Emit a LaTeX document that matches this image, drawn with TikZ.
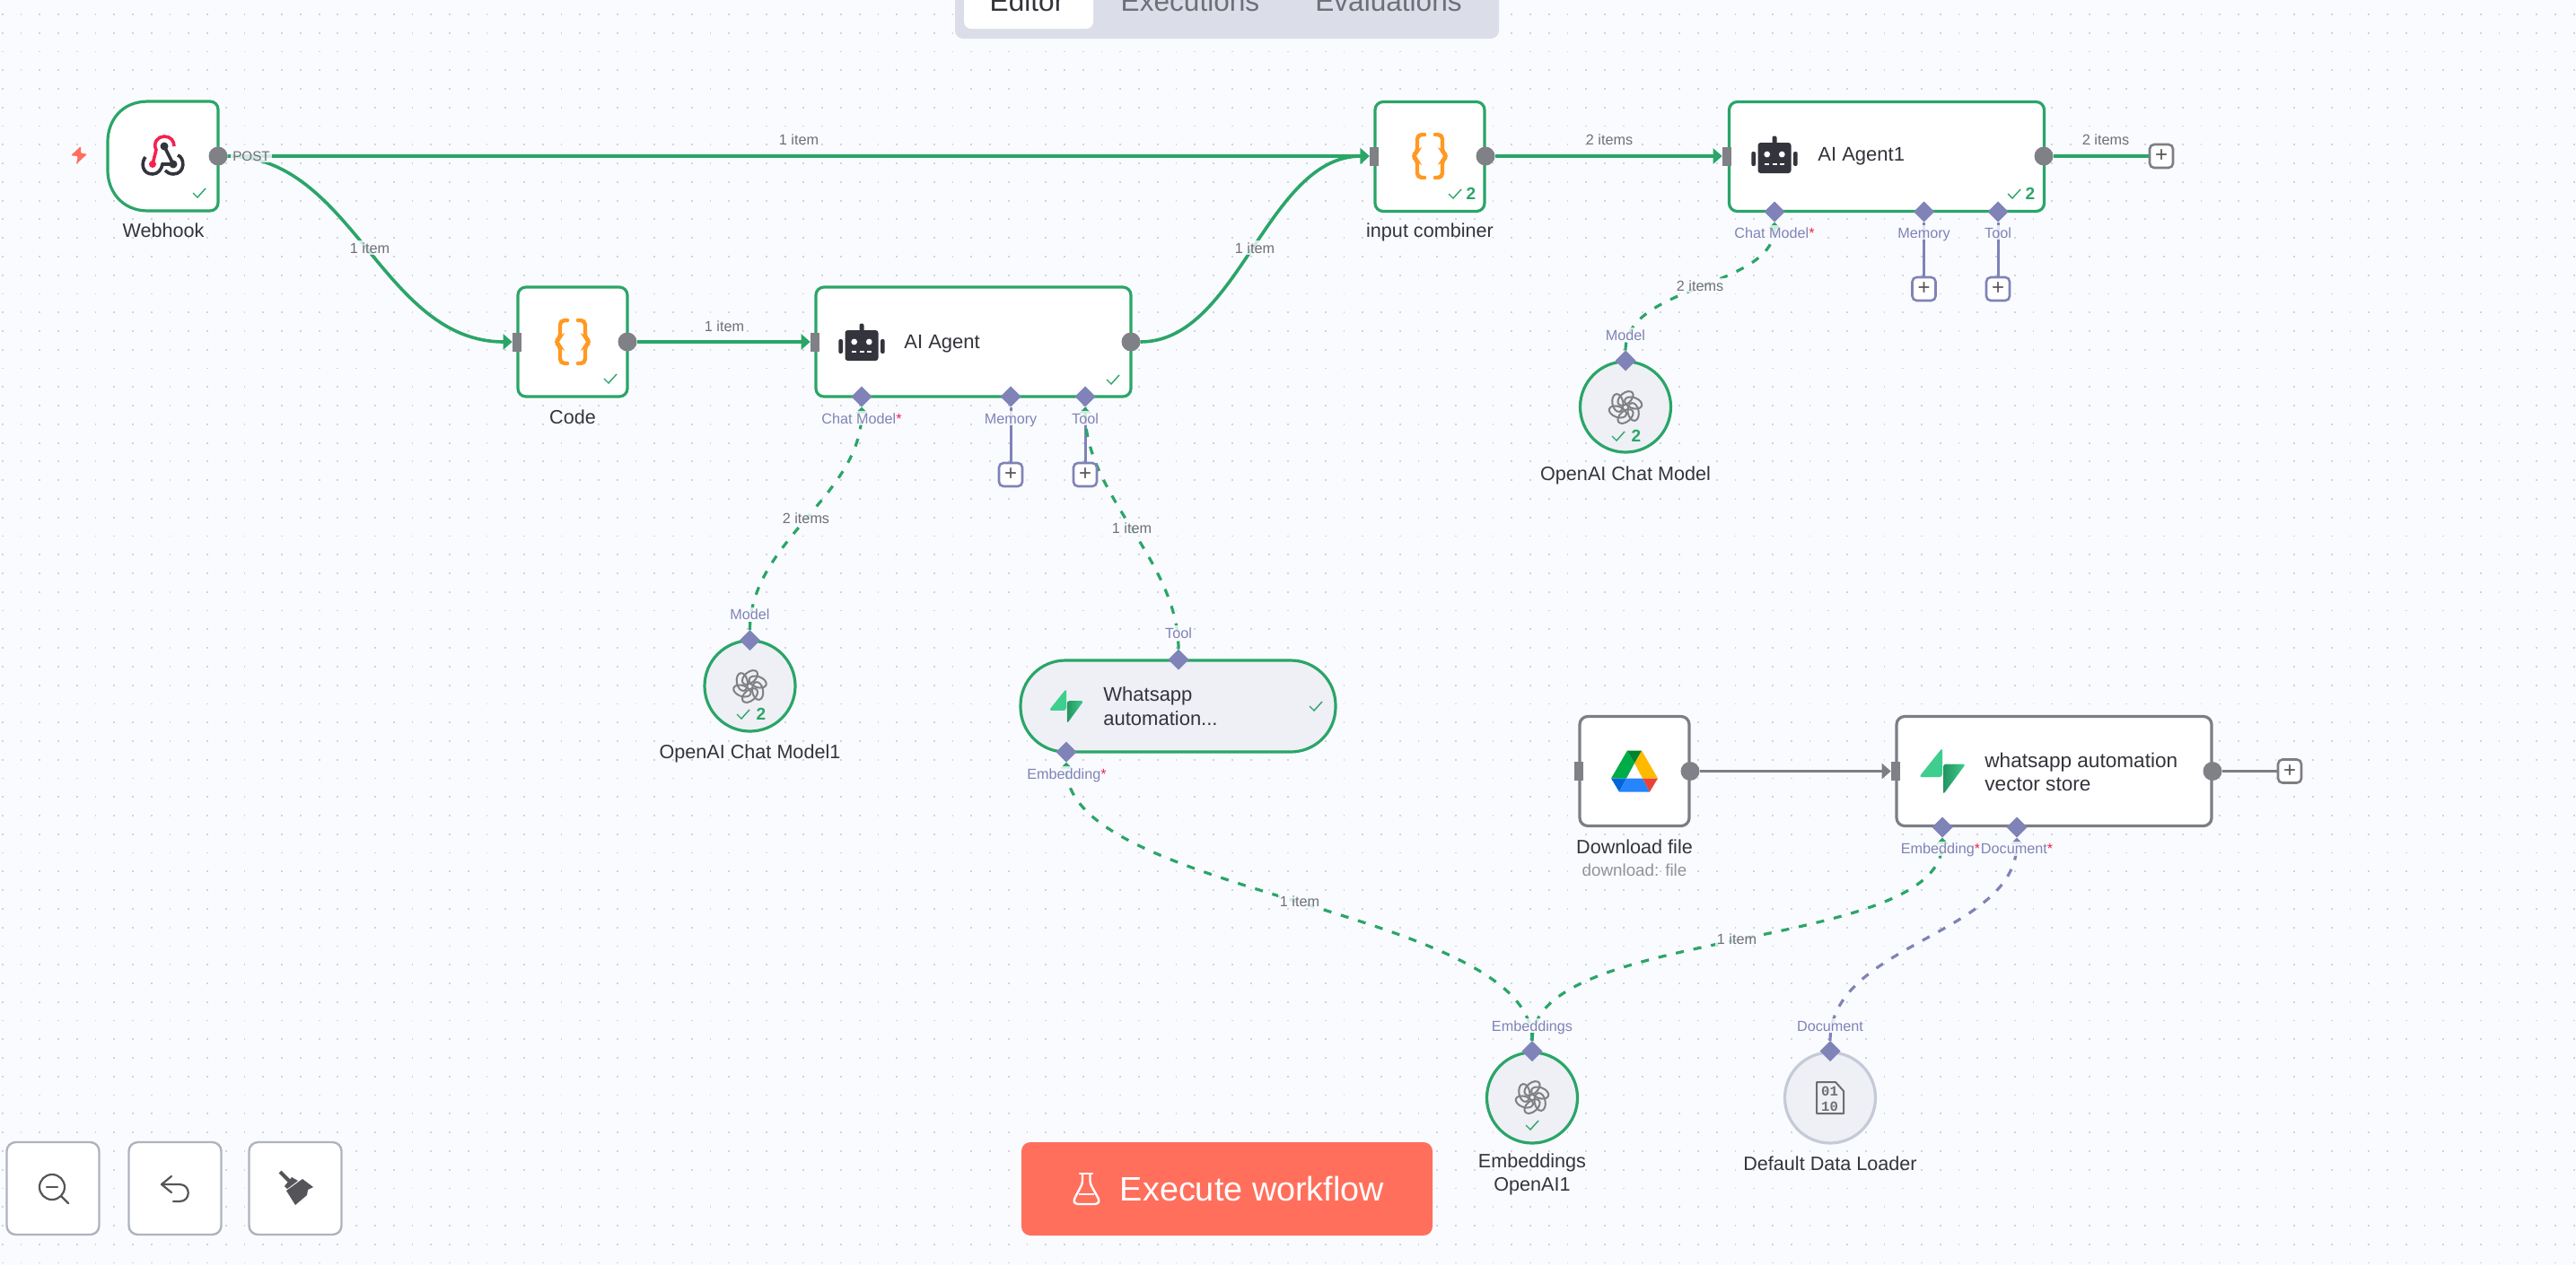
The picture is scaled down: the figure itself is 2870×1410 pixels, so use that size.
\documentclass[tikz,border=0pt]{standalone}
\usepackage{fontspec}
\setmainfont{Liberation Sans}
\setmonofont{Liberation Mono}
\usetikzlibrary{arrows.meta,shapes.geometric,backgrounds}
\definecolor{pagebg}{HTML}{FAFBFE}
\definecolor{griddot}{HTML}{D0D3DB}
\definecolor{okgreen}{HTML}{2AA568}
\definecolor{aipurple}{HTML}{7F83B7}
\definecolor{portgray}{HTML}{7F8186}
\definecolor{idlegray}{HTML}{7D7E85}
\definecolor{softfill}{HTML}{EEF0F5}
\definecolor{softline}{HTML}{C5CAD8}
\definecolor{inkdark}{HTML}{33343C}
\definecolor{inkgray}{HTML}{6E6F78}
\definecolor{iconink}{HTML}{555559}
\definecolor{reqred}{HTML}{F5224F}
\definecolor{runred}{HTML}{FF6F5C}
\definecolor{supagreen}{HTML}{3ECF8E}
\definecolor{supadark}{HTML}{249361}
\definecolor{curlyorange}{HTML}{FF9922}
\tikzset{
  okmark/.pic={\draw [okgreen,line width=.7pt] (-7,0) -- (-2,5) -- (7,-5);},
  curly/.pic={
    \draw [curlyorange,line width=2.2pt,rounded corners=2.5pt,line cap=round]
      (-6,-24) -- (-14,-24) -- (-14,-4) -- (-20,0) -- (-14,4) -- (-14,24) -- (-6,24);
    \draw [curlyorange,line width=2.2pt,rounded corners=2.5pt,line cap=round]
      (6,-24) -- (14,-24) -- (14,-4) -- (20,0) -- (14,4) -- (14,24) -- (6,24);
  },
  robot/.pic={
    \fill [inkdark,rounded corners=1.5pt] (-18.5,-17) rectangle (18.5,17);
    \fill [inkdark,rounded corners=1pt] (-2.5,-24.5) rectangle (2.5,-15);
    \fill [inkdark,rounded corners=1pt] (-25.7,-7) rectangle (-21,9);
    \fill [inkdark,rounded corners=1pt] (21,-7) rectangle (25.7,9);
    \fill [white] (-8.3,-4) circle (3.4);
    \fill [white] (8.3,-4) circle (3.4);
    \fill [white] (-11,6) rectangle (-6,8.2);
    \fill [white] (-2.5,6) rectangle (2.5,8.2);
    \fill [white] (6,6) rectangle (11,8.2);
  },
  knot/.pic={
    \foreach \a in {0,60,...,300} {
      \draw [color=iconink!75,line width=1pt,rotate=\a,shift={(0,-10)},rotate=40] (0,0) ellipse (10 and 6);
    }
  },
  supa/.pic={
    \fill [supagreen,rounded corners=1.5pt] (0,-26) -- (-26,6.5) -- (0,6.5) -- cycle;
    \shade [left color=supadark,right color=supagreen,rounded corners=1.5pt] (1,-8) -- (26,-8) -- (1,26) -- cycle;
  },
  drive/.pic={
    \fill [color={rgb,255:red,0;green,172;blue,71}] (-8,-23) -- (0,-9) -- (-9,8) -- (-26,8) -- cycle;
    \fill [color={rgb,255:red,255;green,186;blue,0}] (8,-23) -- (26,8) -- (9,8) -- (0,-9) -- cycle;
    \fill [color={rgb,255:red,0;green,131;blue,45}] (-8,-23) -- (8,-23) -- (0,-9) -- cycle;
    \fill [color={rgb,255:red,0;green,102;blue,218}] (-26,8) -- (-9,8) -- (-17,23) -- cycle;
    \fill [color={rgb,255:red,38;green,132;blue,252}] (-9,8) -- (9,8) -- (17,23) -- (-17,23) -- cycle;
    \fill [color={rgb,255:red,234;green,67;blue,53}] (9,8) -- (26,8) -- (17,23) -- cycle;
  },
  hookmark/.pic={
    \draw [color=reqred,line width=1.8pt] (-12,10) -- (-8,-6) .. controls (-12,-14) and (-6,-21) .. (1,-21) .. controls (8,-21) and (12,-16) .. (12,-10);
    \draw [inkdark,line width=1.8pt] (1,-10) -- (11,10) -- (-1,10) .. controls (-2,16) and (-6,21) .. (-12,21) .. controls (-24,21) and (-25,8) .. (-20,2);
    \draw [inkdark,line width=1.8pt] (16,0) .. controls (24,2) and (25,21) .. (11,21) .. controls (7,21) and (4,19) .. (2,17);
    \fill [inkdark] (1,-10) circle (4.5);
    \fill [inkdark] (11,10) circle (4.5);
    \fill [color=reqred] (-12,10) circle (4);
  }
}

\begin{document}
\begin{tikzpicture}[x=0.5pt,y=-0.5pt,
  port/.style={inner sep=0pt,outer sep=0pt,fill=portgray},
  outdot/.style={port,circle,minimum size=10.5pt},
  insquare/.style={port,rectangle,minimum width=5.3pt,minimum height=10.5pt},
  aidiamond/.style={inner sep=0pt,outer sep=0pt,diamond,aspect=1,fill=aipurple,minimum size=11.5pt},
  box/.style={draw=okgreen,fill=white,line width=1.6pt,rectangle,rounded corners=4.5pt,inner sep=0pt,outer sep=0pt,minimum height=61pt},
  tallbox/.style={box,minimum width=61pt},
  widebox/.style={box,minimum width=175.5pt},
  idle/.style={draw=idlegray},
  round/.style={circle,draw=okgreen,fill=softfill,line width=1.6pt,inner sep=0pt,outer sep=0pt,minimum size=50.5pt},
  addbox/.style={draw=aipurple,fill=white,line width=1.3pt,rectangle,rounded corners=2.5pt,inner sep=0pt,outer sep=0pt,minimum size=13pt,text=iconink,font=\fontsize{12}{12}\selectfont},
  title/.style={font=\fontsize{10.8}{13}\selectfont,text=inkdark,inner sep=0pt,text height=8pt,text depth=0pt},
  side/.style={font=\fontsize{11}{13.5}\selectfont,text=inkdark,inner sep=0pt,anchor=west,align=left},
  count/.style={font=\fontsize{8.1}{10}\selectfont,text=inkgray,fill=pagebg,fill opacity=.8,text opacity=1,inner sep=1pt,text height=6pt,text depth=0pt},
  tag/.style={count,text=aipurple},
  runs/.style={font=\fontsize{9.5}{11}\selectfont\bfseries,text=okgreen,inner sep=0pt},
  tab/.style={font=\fontsize{15.8}{18}\selectfont,text=inkgray,anchor=base,inner sep=0pt},
  toolbtn/.style={draw=softline!70!idlegray,fill=white,line width=1.2pt,rectangle,rounded corners=5pt,inner sep=0pt,minimum size=51.5pt},
  flow/.style={draw=okgreen,line width=1.8pt},
  flowtip/.style={flow,-{Triangle[width=8.5pt,length=5pt]}},
  idleflow/.style={line width=1.5pt,draw=idlegray},
  aiflow/.style={draw=okgreen,line width=1.6pt,dash pattern=on 4.5pt off 5.5pt,-{Triangle[width=6.5pt,length=3.5pt]}},
  aistub/.style={draw=aipurple,line width=1.5pt}]
\useasboundingbox (0,0) rectangle (2870,1410);

% top tabs
\fill [color={rgb,255:red,219;green,222;blue,232},rounded corners=4.5pt] (1064,-20) rectangle (1670,43);
\fill [white,rounded corners=4pt] (1074,-20) rectangle (1218,32);
\node [tab,text=inkdark] (editor) at (1144,12) {Editor};
\node [tab] (executions) at (1326,12) {Executions};
\node [tab] (evaluations) at (1547,12) {Evaluations};

% main row
\fill [runred,rounded corners=.6pt] (90,163) -- (79,173.3) -- (86.7,174) -- (85,183) -- (97,171.7) -- (90,170.7) -- cycle;
\node [inner sep=0pt,outer sep=0pt,minimum width=61.5pt,minimum height=61pt] (webhook) at (181.5,174) {};
\draw [draw=okgreen,fill=white,line width=1.6pt]
  (165,113) [rounded corners=4.5pt] -- (243,113) -- (243,235) [sharp corners] -- (165,235)
  .. controls (135,235) and (120,212) .. (120,190) -- (120,158) .. controls (120,135) and (135,113) .. (165,113) -- cycle;
\node [outdot] (webhookout) at (243,174) {};
\pic at (182,173) {hookmark};
\pic at (222,215) {okmark};
\node [title] (webhookname) at (182,256) {Webhook};

\node [tallbox] (code) at (638,381) {};
\node [insquare] (codein) at (576,381) {};
\node [outdot] (codeout) at (699,381) {};
\pic at (638,381) {curly};
\pic at (680,422) {okmark};
\node [title] (codename) at (638,464) {Code};

\node [widebox] (agent) at (1084.5,381) {};
\node [insquare] (agentin) at (908,381) {};
\node [outdot] (agentout) at (1260,381) {};
\pic at (960,385) {robot};
\node [side] (agentname) at (1007,383) {AI Agent};
\pic at (1240,423) {okmark};
\node [aidiamond] (agentchat) at (960,442) {};
\node [aidiamond] (agentmem) at (1126,442) {};
\node [aidiamond] (agenttool) at (1209,442) {};
\node [addbox] (agentmemplus) at (1126,529) {+};
\node [addbox] (agenttoolplus) at (1209,529) {+};

\node [tallbox] (combiner) at (1593,174.5) {};
\node [insquare] (combinerin) at (1531,174) {};
\node [outdot] (combinerout) at (1655,174) {};
\pic at (1593,174) {curly};
\pic at (1621,216) {okmark};
\node [runs] (combinerruns) at (1639,216) {2};
\node [title] (combinername) at (1593,256) {input combiner};

\node [widebox] (agentone) at (2102,174.5) {};
\node [insquare] (agentonein) at (1924,174) {};
\node [outdot] (agentoneout) at (2277,174) {};
\pic at (1977,176) {robot};
\node [side] (agentonename) at (2025,174) {AI Agent1};
\pic at (2244,216) {okmark};
\node [runs] (agentoneruns) at (2262,216) {2};
\node [aidiamond] (agentonechat) at (1977,236) {};
\node [aidiamond] (agentonemem) at (2143.5,236) {};
\node [aidiamond] (agentonetool) at (2226,236) {};
\node [addbox] (agentonememplus) at (2143.5,322) {+};
\node [addbox] (agentonetoolplus) at (2226,322) {+};
\node [addbox,idle] (agentoneplus) at (2408,174) {+};

% sub nodes
\node [round] (chat) at (1811,453.5) {};
\node [aidiamond] (chatport) at (1811,402) {};
\pic at (1811,454) {knot};
\pic at (1803,486) {okmark};
\node [runs] (chatruns) at (1823,486) {2};
\node [title] (chatname) at (1811,527) {OpenAI Chat Model};

\node [round] (chatone) at (835.5,764.5) {};
\node [aidiamond] (chatoneport) at (835.5,713.5) {};
\pic at (835.5,765) {knot};
\pic at (828,796) {okmark};
\node [runs] (chatoneruns) at (848,796) {2};
\node [title] (chatonename) at (835.5,837) {OpenAI Chat Model1};

\node [box,fill=softfill,minimum width=175.5pt,minimum height=51pt,rounded corners=25pt] (wstool) at (1312.5,787) {};
\node [aidiamond] (wstoolport) at (1313,735) {};
\node [aidiamond] (wstoolembed) at (1188,838) {};
\pic [scale=.75] at (1188,787) {supa};
\node [side] (wstoolname) at (1229,787) {Whatsapp\\automation...};
\pic at (1466,787) {okmark};

% lower row
\node [tallbox,idle] (download) at (1821,859.5) {};
\node [insquare] (downloadin) at (1759,859.5) {};
\node [outdot] (downloadout) at (1883,859.5) {};
\pic at (1821,859.5) {drive};
\node [title] (downloadname) at (1821,943) {Download file};
\node [count,font=\fontsize{9.4}{11}\selectfont,text=inkgray!75,fill=none] (downloadsub) at (1821,970) {download: file};

\node [widebox,idle] (store) at (2288.5,859.5) {};
\node [insquare] (storein) at (2112,859.5) {};
\node [outdot] (storeout) at (2465,859.5) {};
\pic at (2164,859.5) {supa};
\node [side,font=\fontsize{11.3}{13}\selectfont] (storename) at (2211,860) {whatsapp automation\\vector store};
\node [aidiamond] (storeembed) at (2164,922) {};
\node [aidiamond] (storedoc) at (2247,922) {};
\node [addbox,idle] (storeplus) at (2551,859.5) {+};

\node [round] (embed) at (1707,1223.5) {};
\node [aidiamond] (embedport) at (1707,1171.5) {};
\pic at (1707,1223) {knot};
\pic at (1707,1254) {okmark};
\node [font=\fontsize{10.8}{13}\selectfont,text=inkdark,inner sep=0pt,align=center] (embedname) at (1707,1309) {Embeddings\\OpenAI1};

\node [round,draw=softline] (loader) at (2039,1223.5) {};
\node [aidiamond] (loaderport) at (2039,1171.5) {};
\draw [color=iconink!85,line width=1pt,line join=round] (2024,1206) -- (2045,1206) -- (2054,1216) -- (2054,1241) -- (2024,1241) -- cycle;
\node [inner sep=0pt,align=center,text=iconink!85,font=\fontsize{7.8}{8.6}\selectfont\ttfamily\bfseries] (loaderbits) at (2038.5,1225) {01\\10};
\node [title] (loadername) at (2039,1296) {Default Data Loader};

% buttons
\node [toolbtn] (zoombtn) at (59,1324.5) {};
\node [toolbtn] (undobtn) at (195,1324.5) {};
\node [toolbtn] (clearbtn) at (329,1324.5) {};
\draw [iconink,line width=1.1pt] (58,1323) circle (14);
\draw [iconink,line width=1.1pt,line cap=round] (52,1323) -- (64,1323);
\draw [iconink,line width=1.1pt,line cap=round] (68,1333) -- (76,1341);
\draw [iconink,line width=1.1pt,line cap=round,line join=round] (191,1311) -- (180,1320) -- (191,1329);
\draw [iconink,line width=1.1pt,line cap=round] (180,1320) -- (200,1320) .. controls (213,1320) and (213,1339) .. (200,1339) -- (193,1339);
\draw [iconink,line width=2pt] (312,1306) -- (323,1317);
\fill [iconink] (317,1322) -- (325,1312) -- (332,1316) -- (320,1325) -- cycle;
\fill [iconink] (319,1327) -- (337,1314) -- (349,1323) -- (343,1326) -- (342,1332) -- (329,1343) -- cycle;

\node [inner sep=0pt,outer sep=0pt,fill=runred,rectangle,rounded corners=5pt,minimum width=229pt,minimum height=52pt] (runbtn) at (1367,1325) {};
\draw [white,line width=1.2pt,line join=round,line cap=round] (1203,1308) -- (1217,1308);
\draw [white,line width=1.2pt,line join=round,rounded corners=1.5pt] (1206,1308) -- (1206,1319) -- (1196,1338) -- (1198,1342) -- (1223,1342) -- (1225,1338) -- (1214.5,1319) -- (1214.5,1308);
\draw [white,line width=1.2pt] (1202,1331) -- (1219,1331);
\node [inner sep=0pt,text=white,font=\fontsize{18.9}{22}\selectfont] (runtext) at (1395,1325) {Execute workflow};

% grid and connectors below the nodes
\begin{scope}[on background layer]
\fill [pagebg] (0,0) rectangle (2870,1410);
\foreach \i in {0,...,138} {
  \draw [griddot,line width=.9pt,dash pattern=on .9pt off 9.485pt] (2.7+\i*20.76,15) -- (2.7+\i*20.76,1410);
}
\draw [flowtip] (webhookout) -- (combinerin);
\draw [flowtip] (webhookout) .. controls +(150,0) and +(-150,0) .. (codein);
\draw [flowtip] (codeout) -- (agentin);
\draw [flowtip] (agentout) .. controls +(120,0) and +(-120,0) .. (combinerin);
\draw [flowtip] (combinerout) -- (agentonein);
\draw [flow] (agentoneout) -- (agentoneplus);
\draw [flowtip,idleflow] (downloadout) -- (storein);
\draw [idleflow] (storeout) -- (storeplus);
\draw [aistub] (agentmem) -- (agentmemplus);
\draw [aistub] (agenttool) -- (agenttoolplus);
\draw [aistub] (agentonemem) -- (agentonememplus);
\draw [aistub] (agentonetool) -- (agentonetoolplus);
\draw [aiflow] (chatport) .. controls +(0,-85) and +(0,85) .. (agentonechat);
\draw [aiflow] (chatoneport) .. controls +(0,-110) and +(0,110) .. (agentchat);
\draw [aiflow] (wstoolport) .. controls +(0,-110) and +(0,110) .. (agenttool);
\draw [aiflow] (embedport) .. controls +(0,-160) and +(0,160) .. (wstoolembed);
\draw [aiflow] (embedport) .. controls +(0,-140) and +(0,140) .. (storeembed);
\draw [aiflow,draw=aipurple] (loaderport) .. controls +(0,-120) and +(0,120) .. (storedoc);
\end{scope}

% connector labels
\node [count,font=\fontsize{7.6}{9}\selectfont] (postlabel) at (280,173) {POST};
\node [count,fill=none] (hooktop) at (890,155) {1 item};
\node [count] (hookcode) at (412,276) {1 item};
\node [count,fill=none] (codeagent) at (807,363) {1 item};
\node [count] (agentcomb) at (1398,276) {1 item};
\node [count,fill=none] (combagent) at (1793,155) {2 items};
\node [count,fill=none] (agentoneplusitems) at (2346,155) {2 items};
\node [count] (chatitems) at (1894,318) {2 items};
\node [count] (chatoneitems) at (898,577) {2 items};
\node [count] (toolitems) at (1261,588) {1 item};
\node [count] (embedleft) at (1448,1004) {1 item};
\node [count] (embedright) at (1935,1046) {1 item};

\node [tag] (chatlabel) at (960,466) {Chat Model{\color{reqred}*}};
\node [tag] (memlabel) at (1126,466) {Memory};
\node [tag] (toollabel) at (1209,466) {Tool};
\node [tag] (chatonelabel) at (1977,259) {Chat Model{\color{reqred}*}};
\node [tag] (memonelabel) at (2143.5,259) {Memory};
\node [tag] (toolonelabel) at (2226,259) {Tool};
\node [tag] (modellabel) at (1811,373) {Model};
\node [tag] (modelonelabel) at (835.5,684.5) {Model};
\node [tag] (wstoollabel) at (1313,705) {Tool};
\node [tag] (wsembedlabel) at (1188.5,862) {Embedding{\color{reqred}*}};
\node [tag] (storeembedlabel) at (2162,945.5) {Embedding{\color{reqred}*}};
\node [tag] (storedoclabel) at (2247,945.5) {Document{\color{reqred}*}};
\node [tag] (embedlabel) at (1707,1143) {Embeddings};
\node [tag] (loaderlabel) at (2039,1143) {Document};
\end{tikzpicture}
\end{document}
